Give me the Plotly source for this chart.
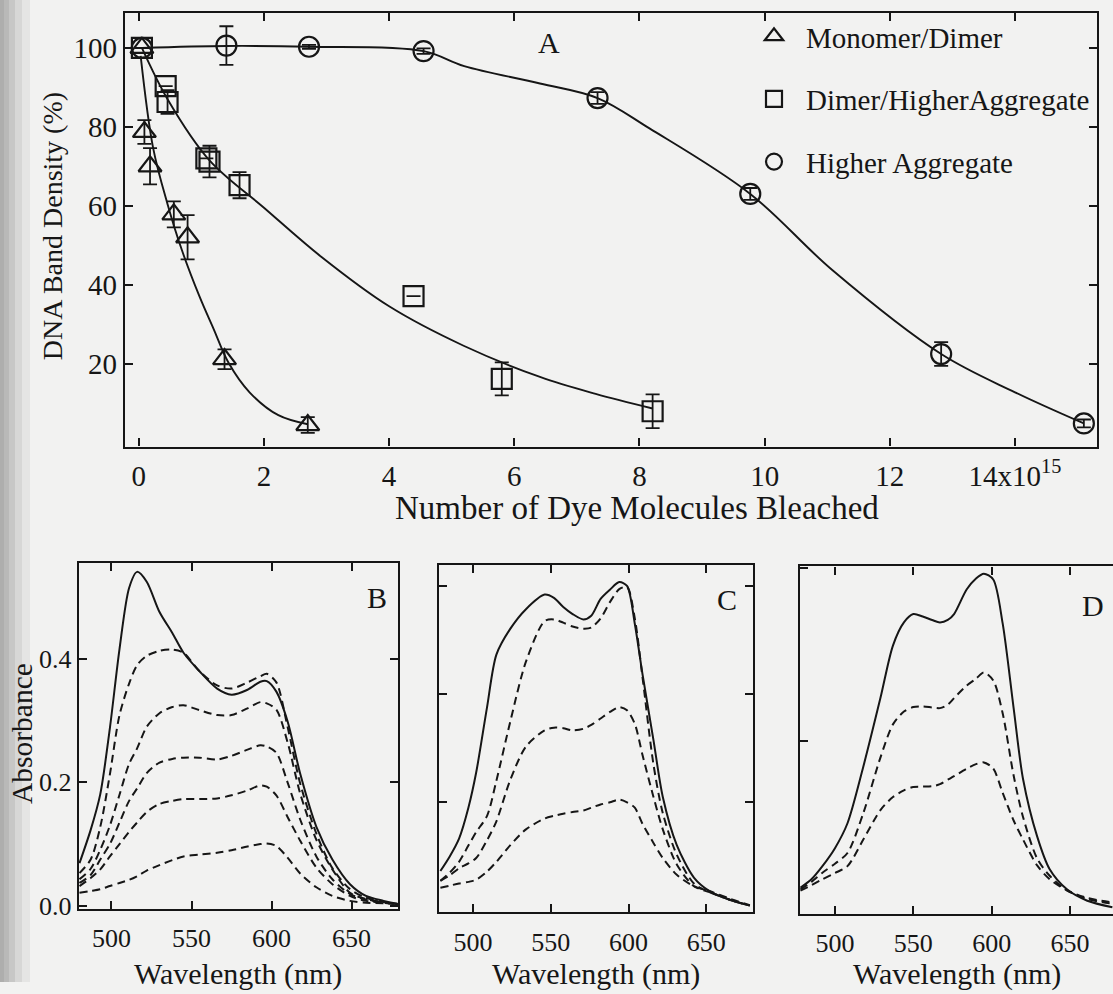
import plotly.graph_objects as go

INK = "#161616"
FONT = "Liberation Serif, Times New Roman, serif"
W, H = 1113, 994

# ---------------- Panel A: band density vs. bleached dye molecules (x in 1e15) ----------------
mono_x = [0.05, 0.09, 0.18, 0.56, 0.78, 1.37, 2.70]
mono_y = [100.0, 78.7, 70.0, 57.8, 52.0, 21.1, 4.4]
mono_err = [0.0, 3.0, 4.6, 3.3, 5.6, 2.5, 2.0]
mono_fit_x = [0.03, 0.23, 0.46, 0.69, 0.97, 1.20, 1.43, 1.77, 2.23, 2.70]
mono_fit_y = [98.0, 74.6, 60.4, 48.7, 37.0, 28.6, 20.3, 12.7, 6.9, 4.6]

dimer_x = [0.05, 0.43, 0.46, 1.08, 1.13, 1.61, 4.39, 5.80, 8.21]
dimer_y = [100.0, 90.3, 86.3, 72.0, 71.2, 65.2, 37.1, 16.1, 7.9]
dimer_err = [0.0, 0.0, 3.0, 0.0, 4.0, 3.3, 0.0, 4.2, 4.3]
dimer_fit_x = [0.05, 0.46, 1.13, 2.00, 2.92, 4.00, 5.19, 6.41, 7.30, 8.21]
dimer_fit_y = [100.0, 87.0, 71.5, 59.5, 47.0, 34.5, 24.5, 16.6, 12.3, 8.6]

agg_x = [0.05, 1.40, 2.72, 4.55, 7.33, 9.77, 12.82, 15.10]
agg_y = [100.0, 100.6, 100.3, 99.2, 87.3, 63.0, 22.4, 4.8]
agg_err = [0.0, 4.9, 0.5, 0.7, 1.5, 1.5, 3.0, 1.0]
agg_fit_x = [0.05, 1.40, 2.72, 4.55, 5.20, 6.41, 7.33, 8.16, 9.77, 11.08, 12.82, 14.00, 15.10]
agg_fit_y = [100.0, 100.5, 100.3, 99.2, 95.4, 91.0, 87.3, 79.6, 63.0, 43.7, 22.4, 12.7, 4.8]

a_xticks = [0, 2, 4, 6, 8, 10, 12, 14]
a_xticktext = ["0", "2", "4", "6", "8", "10", "12", "14x10<sup>15</sup>"]
a_yticks = [20, 40, 60, 80, 100]

# ---------------- Panel B: absorption spectra during bleaching ----------------
b_wl = [480, 487, 493, 499, 505, 511, 516, 522, 530, 538, 545, 555, 566,
        575, 585, 593, 597, 603, 610, 618, 628, 638, 649, 659, 670, 679]
b_initial = [0.069, 0.123, 0.181, 0.288, 0.416, 0.515, 0.541, 0.525, 0.476, 0.442, 0.410, 0.380, 0.352,
             0.342, 0.350, 0.363, 0.364, 0.347, 0.299, 0.213, 0.128, 0.075, 0.035, 0.016, 0.008, 0.003]
b_bleached = [
    [0.053, 0.075, 0.128, 0.213, 0.309, 0.360, 0.390, 0.405, 0.413, 0.415, 0.410, 0.380, 0.357,
     0.352, 0.362, 0.372, 0.376, 0.362, 0.290, 0.197, 0.117, 0.061, 0.027, 0.013, 0.006, 0.003],
    [0.043, 0.060, 0.091, 0.130, 0.180, 0.230, 0.255, 0.290, 0.312, 0.322, 0.325, 0.317, 0.309,
     0.309, 0.320, 0.330, 0.328, 0.318, 0.265, 0.181, 0.107, 0.059, 0.021, 0.011, 0.006, 0.003],
    [0.037, 0.050, 0.075, 0.100, 0.135, 0.170, 0.190, 0.215, 0.232, 0.238, 0.240, 0.240, 0.237,
     0.243, 0.253, 0.260, 0.258, 0.248, 0.200, 0.139, 0.080, 0.043, 0.019, 0.010, 0.005, 0.003],
    [0.032, 0.045, 0.059, 0.080, 0.100, 0.120, 0.135, 0.152, 0.165, 0.170, 0.173, 0.173, 0.174,
     0.179, 0.187, 0.195, 0.193, 0.179, 0.144, 0.105, 0.062, 0.035, 0.016, 0.008, 0.005, 0.003],
    [0.021, 0.024, 0.027, 0.032, 0.037, 0.042, 0.048, 0.057, 0.066, 0.074, 0.080, 0.083, 0.086,
     0.090, 0.096, 0.100, 0.101, 0.097, 0.078, 0.052, 0.030, 0.016, 0.008, 0.005, 0.004, 0.003],
]
b_xticks = [500, 550, 600, 650]
b_yticks = [0.0, 0.2, 0.4]
b_yticktext = ["0.0", "0.2", "0.4"]

# ---------------- Panel C ----------------
c_wl = [479, 485, 491, 497, 502, 509, 515, 524, 534, 546, 552, 558, 564, 571,
        576, 582, 588, 594, 599, 604, 609, 616, 622, 631, 642, 652, 665, 678]
c_initial = [0.073, 0.100, 0.133, 0.190, 0.255, 0.376, 0.473, 0.521, 0.557, 0.584, 0.578, 0.561, 0.548, 0.538,
             0.545, 0.576, 0.593, 0.607, 0.600, 0.530, 0.436, 0.315, 0.210, 0.121, 0.061, 0.036, 0.020, 0.009]
c_bleached = [
    [0.055, 0.070, 0.090, 0.120, 0.145, 0.175, 0.240, 0.350, 0.460, 0.535, 0.538, 0.532, 0.525, 0.521,
     0.523, 0.540, 0.570, 0.594, 0.598, 0.540, 0.430, 0.270, 0.180, 0.103, 0.050, 0.034, 0.020, 0.009],
    [0.055, 0.065, 0.078, 0.087, 0.097, 0.130, 0.165, 0.242, 0.303, 0.333, 0.338, 0.337, 0.333, 0.336,
     0.343, 0.355, 0.367, 0.376, 0.370, 0.345, 0.287, 0.210, 0.150, 0.085, 0.045, 0.034, 0.020, 0.009],
    [0.042, 0.046, 0.050, 0.053, 0.057, 0.072, 0.090, 0.121, 0.150, 0.170, 0.175, 0.179, 0.182, 0.185,
     0.190, 0.196, 0.200, 0.205, 0.200, 0.190, 0.160, 0.125, 0.097, 0.066, 0.045, 0.036, 0.022, 0.010],
]
c_yticks = [0.2, 0.4, 0.6]

# ---------------- Panel D ----------------
d_wl = [478, 485, 492, 500, 508, 518, 529, 537, 544, 550, 556, 562, 567, 572,
        576, 584, 590, 595, 601, 607, 614, 620, 629, 637, 648, 661, 677]
d_initial = [0.076, 0.100, 0.138, 0.190, 0.262, 0.424, 0.624, 0.776, 0.843, 0.867, 0.860, 0.850, 0.843, 0.850,
             0.867, 0.938, 0.970, 0.984, 0.967, 0.840, 0.595, 0.390, 0.224, 0.129, 0.071, 0.038, 0.019]
d_bleached = [
    [0.071, 0.092, 0.119, 0.145, 0.176, 0.290, 0.452, 0.548, 0.585, 0.598, 0.600, 0.597, 0.595, 0.605,
     0.624, 0.660, 0.680, 0.698, 0.675, 0.580, 0.400, 0.280, 0.160, 0.110, 0.068, 0.043, 0.029],
    [0.067, 0.083, 0.100, 0.118, 0.138, 0.214, 0.300, 0.338, 0.357, 0.367, 0.368, 0.369, 0.375, 0.388,
     0.398, 0.420, 0.433, 0.438, 0.420, 0.350, 0.270, 0.215, 0.140, 0.100, 0.068, 0.046, 0.033],
]
d_yticks = [0.5, 1.0]

fig = go.Figure()

# --- Panel A traces ---
series = [
    ("Monomer/Dimer", "triangle-up-open", mono_x, mono_y, mono_err, mono_fit_x, mono_fit_y),
    ("Dimer/HigherAggregate", "square-open", dimer_x, dimer_y, dimer_err, dimer_fit_x, dimer_fit_y),
    ("Higher Aggregate", "circle-open", agg_x, agg_y, agg_err, agg_fit_x, agg_fit_y),
]
for i, (name, sym, xs, ys, err, fx, fy) in enumerate(series):
    fig.add_trace(go.Scatter(
        x=fx, y=fy, mode="lines", line=dict(color=INK, width=1.9, shape="spline", smoothing=1.0),
        showlegend=False, hoverinfo="skip", xaxis="x", yaxis="y"))
    fig.add_trace(go.Scatter(
        x=xs, y=ys, mode="markers", name=name, legendgroup=f"g{i}",
        marker=dict(symbol=sym, size=20, color=INK, line=dict(width=2.2, color=INK)),
        error_y=dict(type="data", array=err, visible=True, color=INK, thickness=1.8, width=7),
        xaxis="x", yaxis="y"))

# --- Spectra panels ---
def add_spectra(wl, initial, bleached, xa, ya):
    fig.add_trace(go.Scatter(
        x=wl, y=initial, mode="lines", line=dict(color=INK, width=2.0, shape="spline", smoothing=0.8),
        showlegend=False, hoverinfo="skip", xaxis=xa, yaxis=ya))
    for curve in bleached:
        fig.add_trace(go.Scatter(
            x=wl, y=curve, mode="lines",
            line=dict(color=INK, width=2.0, dash="8px,5px", shape="spline", smoothing=0.8),
            showlegend=False, hoverinfo="skip", xaxis=xa, yaxis=ya))

add_spectra(b_wl, b_initial, b_bleached, "x2", "y2")
add_spectra(c_wl, c_initial, c_bleached, "x3", "y3")
add_spectra(d_wl, d_initial, d_bleached, "x4", "y4")


def axis(**kw):
    base = dict(showline=True, linewidth=2.4, linecolor=INK, mirror="ticks",
                ticks="inside", ticklen=8, tickwidth=1.8, tickcolor=INK,
                showgrid=False, zeroline=False,
                tickfont=dict(family=FONT, size=26, color=INK))
    base.update(kw)
    return base


def dom_x(left, right):
    return [left / W, right / W]


def dom_y(top, bottom):
    return [1 - bottom / H, 1 - top / H]


fig.update_layout(
    width=W, height=H,
    margin=dict(l=0, r=0, t=0, b=0),
    paper_bgcolor="#f2f2f1",
    plot_bgcolor="rgba(0,0,0,0)",
    font=dict(family=FONT, color=INK, size=28),
    xaxis=axis(domain=dom_x(125, 1097), range=[-0.22, 15.31],
               tickvals=a_xticks, ticktext=a_xticktext, ticklabelstandoff=2,
               tickfont=dict(family=FONT, size=29, color=INK), anchor="y"),
    yaxis=axis(domain=dom_y(13, 452), range=[-1.05, 108.9],
               tickvals=a_yticks, tickfont=dict(family=FONT, size=29, color=INK), anchor="x"),
    xaxis2=axis(domain=dom_x(79, 398), range=[479.7, 679.0], tickvals=b_xticks,
                ticklabelstandoff=5, anchor="y2"),
    yaxis2=axis(domain=dom_y(569.5, 920), range=[-0.005, 0.556],
                tickvals=b_yticks, ticktext=b_yticktext, anchor="x2"),
    xaxis3=axis(domain=dom_x(439, 753), range=[478.1, 680.0], tickvals=b_xticks,
                ticklabelstandoff=5, anchor="y3"),
    yaxis3=axis(domain=dom_y(571.7, 923.3), range=[-0.003, 0.639],
                tickvals=c_yticks, showticklabels=False, anchor="x3"),
    xaxis4=axis(domain=dom_x(800, 1113), range=[477.7, 677.4], tickvals=b_xticks,
                ticklabelstandoff=5, anchor="y4"),
    yaxis4=axis(domain=dom_y(573.3, 925), range=[0.0, 1.005], mirror=False,
                tickvals=d_yticks, showticklabels=False, anchor="x4"),
    legend=dict(x=742 / W, y=1 - 11 / H, xanchor="left", yanchor="top",
                bgcolor="rgba(0,0,0,0)", tracegroupgap=22, itemwidth=54,
                font=dict(family=FONT, size=29, color=INK)),
    showlegend=True,
)

# Scanner shadow along the left edge of the page
for x1, op in [(30, 0.05), (22, 0.06), (15, 0.07), (9, 0.07), (4, 0.06)]:
    fig.add_shape(type="rect", xref="paper", yref="paper", x0=0, x1=x1 / W, y0=0, y1=1,
                  fillcolor="#000000", opacity=op, line_width=0, layer="below")

annotations = [
    dict(text="Number of Dye Molecules Bleached", x=637 / W, y=1 - 514 / H, size=33),
    dict(text="DNA Band Density (%)", x=52 / W, y=1 - 229 / H, size=28, angle=-90),
    dict(text="Wavelength (nm)", x=238 / W, y=1 - 986 / H, size=30),
    dict(text="Wavelength (nm)", x=596 / W, y=1 - 986 / H, size=30),
    dict(text="Wavelength (nm)", x=957 / W, y=1 - 986 / H, size=30),
    dict(text="Absorbance", x=22 / W, y=1 - 743 / H, size=29.5, angle=-90),
    dict(text="A", x=549 / W, y=1 - 43 / H, size=30),
    dict(text="B", x=377 / W, y=1 - 605 / H, size=30),
    dict(text="C", x=727 / W, y=1 - 607 / H, size=30),
    dict(text="D", x=1093 / W, y=1 - 613 / H, size=30),
]
for a in annotations:
    fig.add_annotation(text=a["text"], x=a["x"], y=a["y"], xref="paper", yref="paper",
                       xanchor="center", yanchor="middle", showarrow=False,
                       textangle=a.get("angle", 0),
                       font=dict(family=FONT, size=a["size"], color=INK))

fig.write_html("out.html")
